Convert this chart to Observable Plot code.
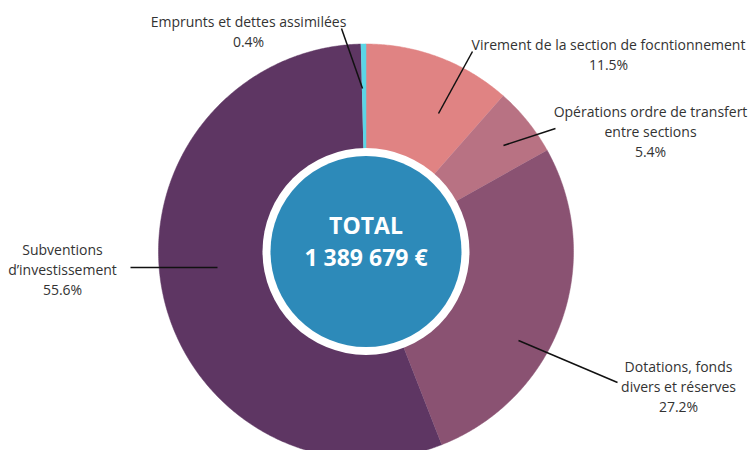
<!DOCTYPE html>
<html><head><meta charset="utf-8">
<script src="https://cdn.jsdelivr.net/npm/d3@7"></script>
<script src="https://cdn.jsdelivr.net/npm/@observablehq/plot@0.6"></script>
<style>body{margin:0;background:#fff;} svg{display:block;}</style>
</head><body><div id="chart"></div>
<script>
// ---- data ----
const categories = [
  "Virement de la section de focntionnement",
  "Opérations ordre de transfert\nentre sections",
  "Dotations, fonds\ndivers et réserves",
  "Subventions\nd’investissement",
  "Emprunts et dettes assimilées"
];
const percents = [11.5, 5.4, 27.2, 55.6, 0.4];
const colors = ["#e08383", "#b87283", "#8a5272", "#5e3663", "#5bd6e6"];
const totalLabel = "TOTAL";
const totalValue = "1 389 679 €";

// ---- layout (pixel geometry) ----
const W = 754, H = 450;
const cx = 365.5, cy = 251, rOuter = 207.5, rInner = 100;
const rWhite = 103.5, rTeal = 95.5;
const labelPos = [ // text block centre and leader line
  {tx: 608, ty: 53, lx1: 438, ly1: 113, lx2: 472, ly2: 51},
  {tx: 650, ty: 130, lx1: 503, ly1: 145, lx2: 555, ly2: 128},
  {tx: 678, ty: 385, lx1: 518, ly1: 340, lx2: 617, ly2: 382},
  {tx: 62, ty: 268, lx1: 217, ly1: 267, lx2: 130, ly2: 267},
  {tx: 248, ty: 30, lx1: 362, ly1: 88, lx2: 341, ly2: 28}
];

const sum = d3.sum(percents);
const slices = [];
let acc = 0;
percents.forEach((p, i) => {
  const a0 = acc / sum * 2 * Math.PI;
  acc += p;
  const a1 = acc / sum * 2 * Math.PI;
  const n = Math.max(2, Math.ceil((a1 - a0) / (Math.PI / 360)));
  const pts = [];
  for (let k = 0; k <= n; k++) {
    const a = a0 + (a1 - a0) * k / n;
    pts.push({x: cx + rOuter * Math.sin(a), y: cy - rOuter * Math.cos(a)});
  }
  for (let k = n; k >= 0; k--) {
    const a = a0 + (a1 - a0) * k / n;
    pts.push({x: cx + rInner * Math.sin(a), y: cy - rInner * Math.cos(a)});
  }
  pts.forEach(pt => slices.push({...pt, key: categories[i], color: colors[i]}));
});

const labels = categories.map((c, i) => ({
  text: c + "\n" + percents[i].toFixed(1) + "%",
  ...labelPos[i]
}));

const chart = Plot.plot({
  width: W, height: H,
  margin: 0,
  x: {domain: [0, W], range: [0, W], axis: null},
  y: {domain: [0, H], range: [0, H], axis: null},
  style: {fontFamily: "'Open Sans', sans-serif", background: "#fff"},
  marks: [
    Plot.line(slices, {x: "x", y: "y", z: "key", fill: "color", stroke: "color", strokeWidth: 0.5, curve: "linear"}),
    Plot.dot([{x: cx, y: cy}], {x: "x", y: "y", r: rWhite, fill: "#ffffff", stroke: "none"}),
    Plot.dot([{x: cx, y: cy}], {x: "x", y: "y", r: rTeal, fill: "#2d8ab9", stroke: "none"}),
    Plot.link(labels, {x1: "lx1", y1: "ly1", x2: "lx2", y2: "ly2", stroke: "#111", strokeWidth: 1.5}),
    Plot.text(labels, {x: "tx", y: "ty", text: "text", fontSize: 14, fill: "#333", lineHeight: 1.43, textAnchor: "middle", lineAnchor: "middle"}),
    Plot.text([{x: cx, y: cy - 25, t: totalLabel}, {x: cx, y: cy + 7, t: totalValue}], {x: "x", y: "y", text: "t", fill: "#fff", fontSize: 23, fontWeight: "bold", textAnchor: "middle", lineAnchor: "middle"})
  ]
});
document.getElementById("chart").appendChild(chart);
</script>
</body></html>
